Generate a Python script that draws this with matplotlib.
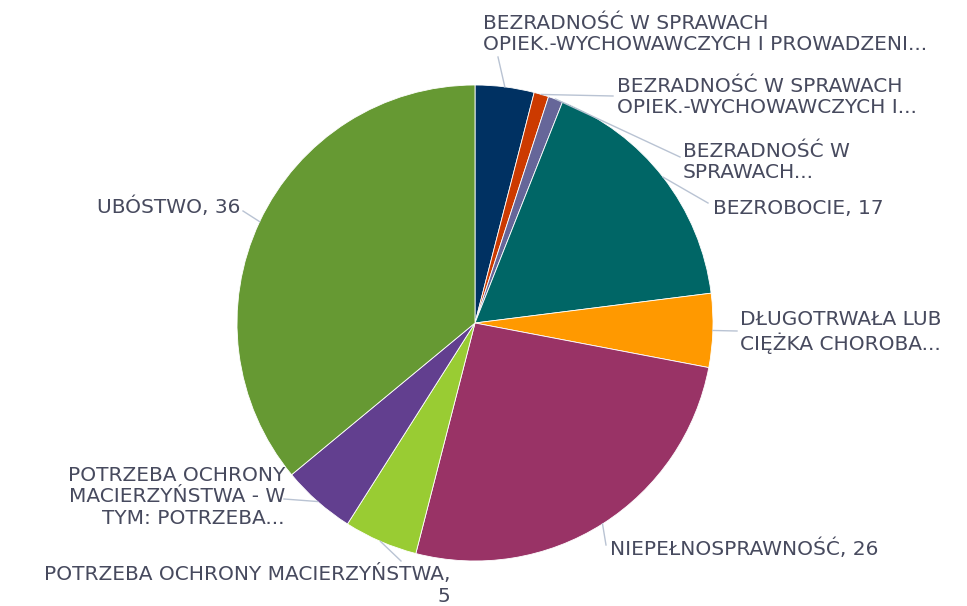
import numpy as np
import matplotlib
matplotlib.use('Agg')
import matplotlib.pyplot as plt

# slice data, clockwise from 12 o'clock
labels = [
    'BEZRADNOŚĆ W SPRAWACH\nOPIEK.-WYCHOWAWCZYCH I PROWADZENI...',
    'BEZRADNOŚĆ W SPRAWACH\nOPIEK.-WYCHOWAWCZYCH I...',
    'BEZRADNOŚĆ W\nSPRAWACH...',
    'BEZROBOCIE, 17',
    'DŁUGOTRWAŁA LUB\nCIĘŻKA CHOROBA...',
    'NIEPEŁNOSPRAWNOŚĆ, 26',
    'POTRZEBA OCHRONY MACIERZYŃSTWA,\n5',
    'POTRZEBA OCHRONY\nMACIERZYŃSTWA - W\nTYM: POTRZEBA...',
    'UBÓSTWO, 36',
]
values = [4, 1, 1, 17, 5, 26, 5, 5, 36]
colors = ['#003162', '#cc3a00', '#666699', '#006666', '#ff9900',
          '#993366', '#99cc33', '#623f8f', '#669933']

# label layout (pixel coords: anchor x, anchor y, alignment, leader end)
label_pos = [
    (483, 34, 'left', (498, 57)),
    (617, 97, 'left', (613, 96)),
    (683, 162, 'left', (680, 157)),
    (713, 208, 'left', (708, 203)),
    (740, 332, 'left', (737, 331)),
    (610, 549, 'left', (606, 545)),
    (450, 585, 'right', (401, 561)),
    (285, 497, 'right', (284, 499)),
    (240, 207, 'right', (243, 211)),
]

W, H = 967, 606
cx, cy, r = 475, 323, 238
text_color = '#474a5e'
line_color = '#b9c3d3'

plt.rcParams['font.family'] = ['DejaVu Sans']

fig = plt.figure(figsize=(W / 100, H / 100), dpi=100)
ax = fig.add_axes([0, 0, 1, 1])

ax.pie(values, colors=colors, startangle=90, counterclock=False,
       center=(cx, H - cy), radius=r, frame=False,
       wedgeprops=dict(linewidth=0.6, edgecolor='white'))
ax.set_xlim(0, W)
ax.set_ylim(0, H)
ax.set_aspect('equal')
ax.axis('off')

total = sum(values)
cum = np.cumsum([0] + values)
for i, (lab, pos) in enumerate(zip(labels, label_pos)):
    tx, ty, ha, end = pos
    frac = (cum[i] + values[i] / 2) / total
    ang = 2 * np.pi * frac
    sx = cx + r * np.sin(ang)
    sy = cy - r * np.cos(ang)
    ax.plot([sx, end[0]], [H - sy, H - end[1]], color=line_color, lw=1)
    ax.text(tx, H - ty, lab, ha=ha, va='center', multialignment=ha,
            fontsize=14.5, color=text_color, linespacing=1.15)

fig.savefig('out.png', dpi=100)
